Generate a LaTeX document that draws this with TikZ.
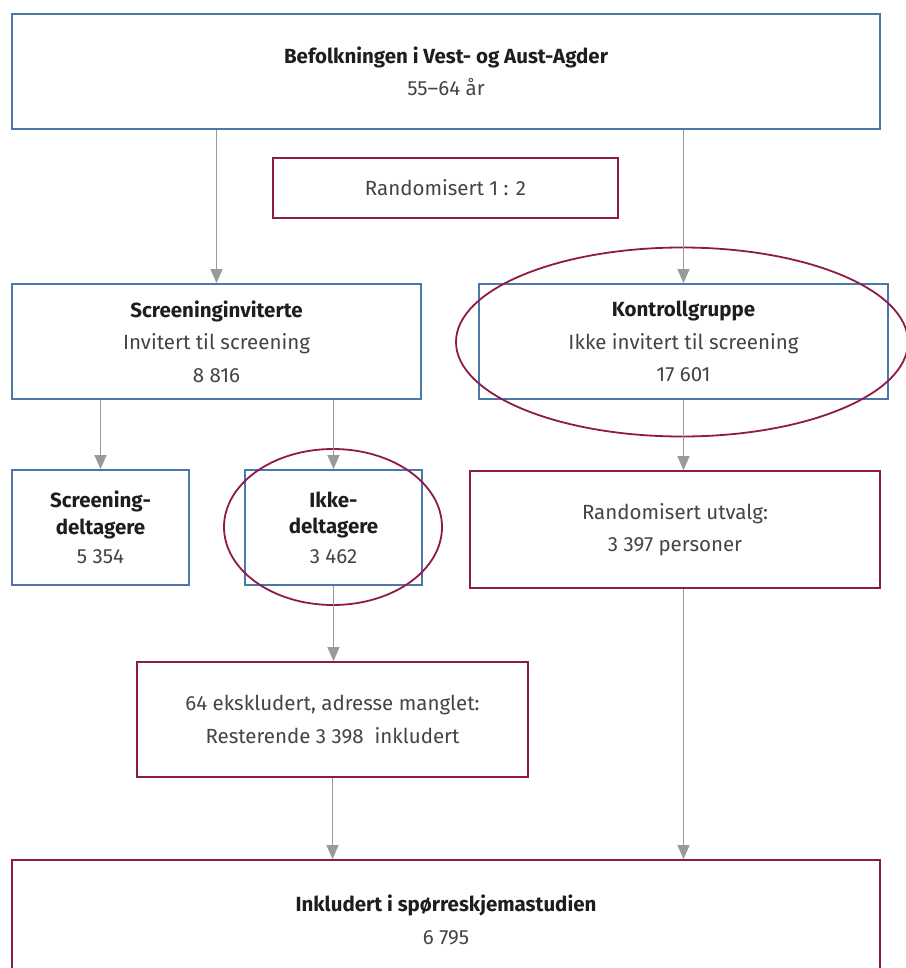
\documentclass[tikz,border=0pt]{standalone}
\usepackage{fontspec}
\setmainfont{Fira Sans}
\usetikzlibrary{arrows.meta,shapes.geometric}
\definecolor{bblue}{HTML}{4A78A8}
\definecolor{bred}{HTML}{8E1B47}
\definecolor{agray}{HTML}{9A9A9C}
\definecolor{tgray}{HTML}{444444}
\definecolor{tdark}{HTML}{1E1E1E}
\begin{document}
\begin{tikzpicture}[x=1pt,y=-1pt,
  box/.style={draw, line width=1.8pt, inner sep=0pt, align=center, text=tgray,
    font=\fontsize{20.5}{32.5}\selectfont},
  bluebox/.style={box, draw=bblue},
  redbox/.style={box, draw=bred},
  ring/.style={draw=bred, line width=1.8pt, ellipse, inner sep=0pt},
  arr/.style={draw=agray, line width=1.4pt, -{Triangle[length=14pt,width=12pt]}, color=agray}]
\useasboundingbox (0,0) rectangle (905,968);
\fill[white] (0,0) rectangle (905,968);

\node[bluebox, minimum width=868, minimum height=115] (top) at (446,71.5)
  {{\bfseries\color{tdark}Befolkningen i Vest- og Aust-Agder}\\55–64 år};
\node[redbox, minimum width=345, minimum height=60] (rand) at (445.5,188) {Randomisert 1 : 2};
\node[bluebox, minimum width=409, minimum height=115] (scr) at (216.5,341.5)
  {{\bfseries\color{tdark}Screeninginviterte}\\Invitert til screening\\8 816};
\node[bluebox, minimum width=409, minimum height=115] (kon) at (683.5,341.5)
  {{\bfseries\color{tdark}Kontrollgruppe}\\Ikke invitert til screening\\17 601};
\node[bluebox, minimum width=177, minimum height=115] (del) at (100.5,527.5)
  {{\bfseries\color{tdark}Screening-}\\[-6pt]{\bfseries\color{tdark}deltagere}\\[-3pt]5 354};
\node[bluebox, minimum width=177, minimum height=115] (ikke) at (333.5,527.5)
  {{\bfseries\color{tdark}Ikke-}\\[-6pt]{\bfseries\color{tdark}deltagere}\\[-3pt]3 462};
\node[redbox, minimum width=410, minimum height=117] (utv) at (675,529.5)
  {Randomisert utvalg:\\3 397 personer};
\node[redbox, minimum width=391, minimum height=115] (eks) at (332.5,719.5)
  {64 ekskludert, adresse manglet:\\Resterende 3 398\ \ inkludert};
\node[redbox, minimum width=868, minimum height=120] (inc) at (446,920)
  {{\bfseries\color{tdark}Inkludert i spørreskjemastudien}\\6 795};

\node[ring, minimum width=452, minimum height=189] (e1) at (682,342) {};
\node[ring, minimum width=218, minimum height=156] (e2) at (333,527) {};

\draw[arr] (top.south -| scr.north) -- (scr.north);
\draw[arr] (top.south -| kon.north) -- (kon.north);
\draw[arr] (scr.south -| del.north) -- (del.north);
\draw[arr] (scr.south -| ikke.north) -- (ikke.north);
\draw[arr] (kon.south) -- (kon.south |- utv.north);
\draw[arr] (ikke.south) -- (ikke.south |- eks.north);
\draw[arr] (eks.south) -- (eks.south |- inc.north);
\draw[arr] (kon.south |- utv.south) -- (kon.south |- inc.north);
\end{tikzpicture}
\end{document}
